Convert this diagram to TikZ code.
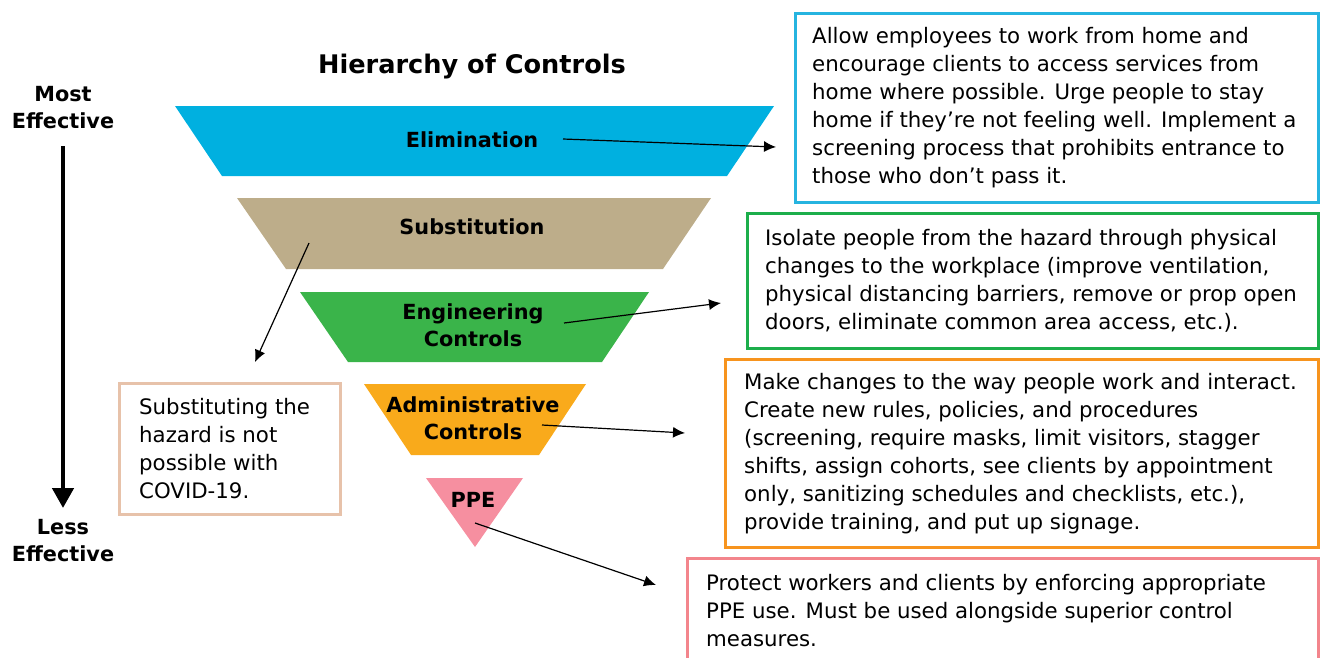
\documentclass[tikz,border=0pt]{standalone}
\usepackage{fontspec}
\setmainfont{DejaVu Sans}
\usetikzlibrary{arrows.meta}

\definecolor{elimcol}{RGB}{0,176,224}
\definecolor{subcol}{RGB}{189,173,138}
\definecolor{engcol}{RGB}{58,180,74}
\definecolor{admcol}{RGB}{249,170,27}
\definecolor{ppecol}{RGB}{246,143,160}
\definecolor{elimline}{RGB}{38,180,224}
\definecolor{subline}{RGB}{231,194,170}
\definecolor{engline}{RGB}{28,174,75}
\definecolor{admline}{RGB}{247,148,30}
\definecolor{ppeline}{RGB}{243,133,140}

\begin{document}
\begin{tikzpicture}[x=1pt,y=-1pt,
    lvl/.style={font=\fontsize{20.8}{27}\selectfont\bfseries,align=center,inner sep=0pt},
    infobox/.style={draw,line width=3pt,anchor=north west,inner sep=0pt},
    boxtext/.style={font=\fontsize{21.3}{28}\selectfont,align=left,anchor=west,inner sep=0pt},
    conn/.style={-{Latex[length=12pt,width=11pt]},line width=1.2pt}]
  \useasboundingbox (0,0) rectangle (1321,657);
  \clip (0,0) rectangle (1321,657);

  % the inverted pyramid
  \fill[elimcol] (175,106) -- (774,106) -- (727,176) -- (222,176) -- cycle;
  \fill[subcol] (237,198) -- (711,198) -- (663,269) -- (286,269) -- cycle;
  \fill[engcol] (300,292) -- (649,292) -- (602,362) -- (348,362) -- cycle;
  \fill[admcol] (364,384) -- (586,384) -- (539,455) -- (411,455) -- cycle;
  \fill[ppecol] (426,478) -- (523,478) -- (475,547) -- cycle;

  \node[font=\fontsize{25.6}{30}\selectfont\bfseries] (title) at (472,67) {Hierarchy of Controls};
  \node[lvl] (elim) at (472,140) {Elimination};
  \node[lvl] (subst) at (472,227) {Substitution};
  \node[lvl] (eng) at (473,325) {Engineering\\Controls};
  \node[lvl] (adm) at (473,418) {Administrative\\Controls};
  \node[lvl] (ppe) at (473,500) {PPE};

  % effectiveness scale
  \node[lvl] (most) at (63,108) {Most\\Effective};
  \node[lvl] (less) at (63,541) {Less\\Effective};
  \coordinate (scaletop) at (63,146);
  \coordinate (scalebot) at (63,508);
  \draw[-{Triangle[length=20pt,width=21pt]},line width=4.5pt] (scaletop) -- (scalebot);

  % description boxes
  \node[infobox,draw=elimline,minimum width=523pt,minimum height=189pt] (elimbox) at (794,12) {};
  \node[boxtext] (elimtxt) at ([xshift=18pt]elimbox.west) {Allow employees to work from home and\\encourage clients to access services from\\home where possible. Urge people to stay\\home if they’re not feeling well. Implement a\\screening process that prohibits entrance to\\those who don’t pass it.};

  \node[infobox,draw=engline,minimum width=571pt,minimum height=135pt] (engbox) at (746,212) {};
  \node[boxtext] (engtxt) at ([xshift=19pt]engbox.west) {Isolate people from the hazard through physical\\changes to the workplace (improve ventilation,\\physical distancing barriers, remove or prop open\\doors, eliminate common area access, etc.).};

  \node[infobox,draw=admline,minimum width=593pt,minimum height=188pt] (admbox) at (724,358) {};
  \node[boxtext] (admtxt) at ([xshift=20pt]admbox.west) {Make changes to the way people work and interact.\\Create new rules, policies, and procedures\\(screening, require masks, limit visitors, stagger\\shifts, assign cohorts, see clients by appointment\\only, sanitizing schedules and checklists, etc.),\\provide training, and put up signage.};

  \node[infobox,draw=ppeline,minimum width=631pt,minimum height=104pt] (ppebox) at (686,557) {};
  \node[boxtext] (ppetxt) at ([xshift=20pt]ppebox.west) {Protect workers and clients by enforcing appropriate\\PPE use. Must be used alongside superior control\\measures.};

  \node[infobox,draw=subline,minimum width=221pt,minimum height=131pt] (subbox) at (118,382) {};
  \node[boxtext] (subtxt) at ([xshift=21pt]subbox.west) {Substituting the\\hazard is not\\possible with\\COVID-19.};

  % pointers from the levels
  \coordinate (elimfrom) at (563,139);
  \coordinate (elimto) at (776,147);
  \coordinate (subfrom) at (309,243);
  \coordinate (subto) at (255,362);
  \coordinate (engfrom) at (564,323);
  \coordinate (engto) at (721,303);
  \coordinate (admfrom) at (542,425);
  \coordinate (admto) at (685,433);
  \coordinate (ppefrom) at (475,523);
  \coordinate (ppeto) at (656,585);
  \draw[conn] (elimfrom) -- (elimto);
  \draw[conn] (subfrom) -- (subto);
  \draw[conn] (engfrom) -- (engto);
  \draw[conn] (admfrom) -- (admto);
  \draw[conn] (ppefrom) -- (ppeto);
\end{tikzpicture}
\end{document}
